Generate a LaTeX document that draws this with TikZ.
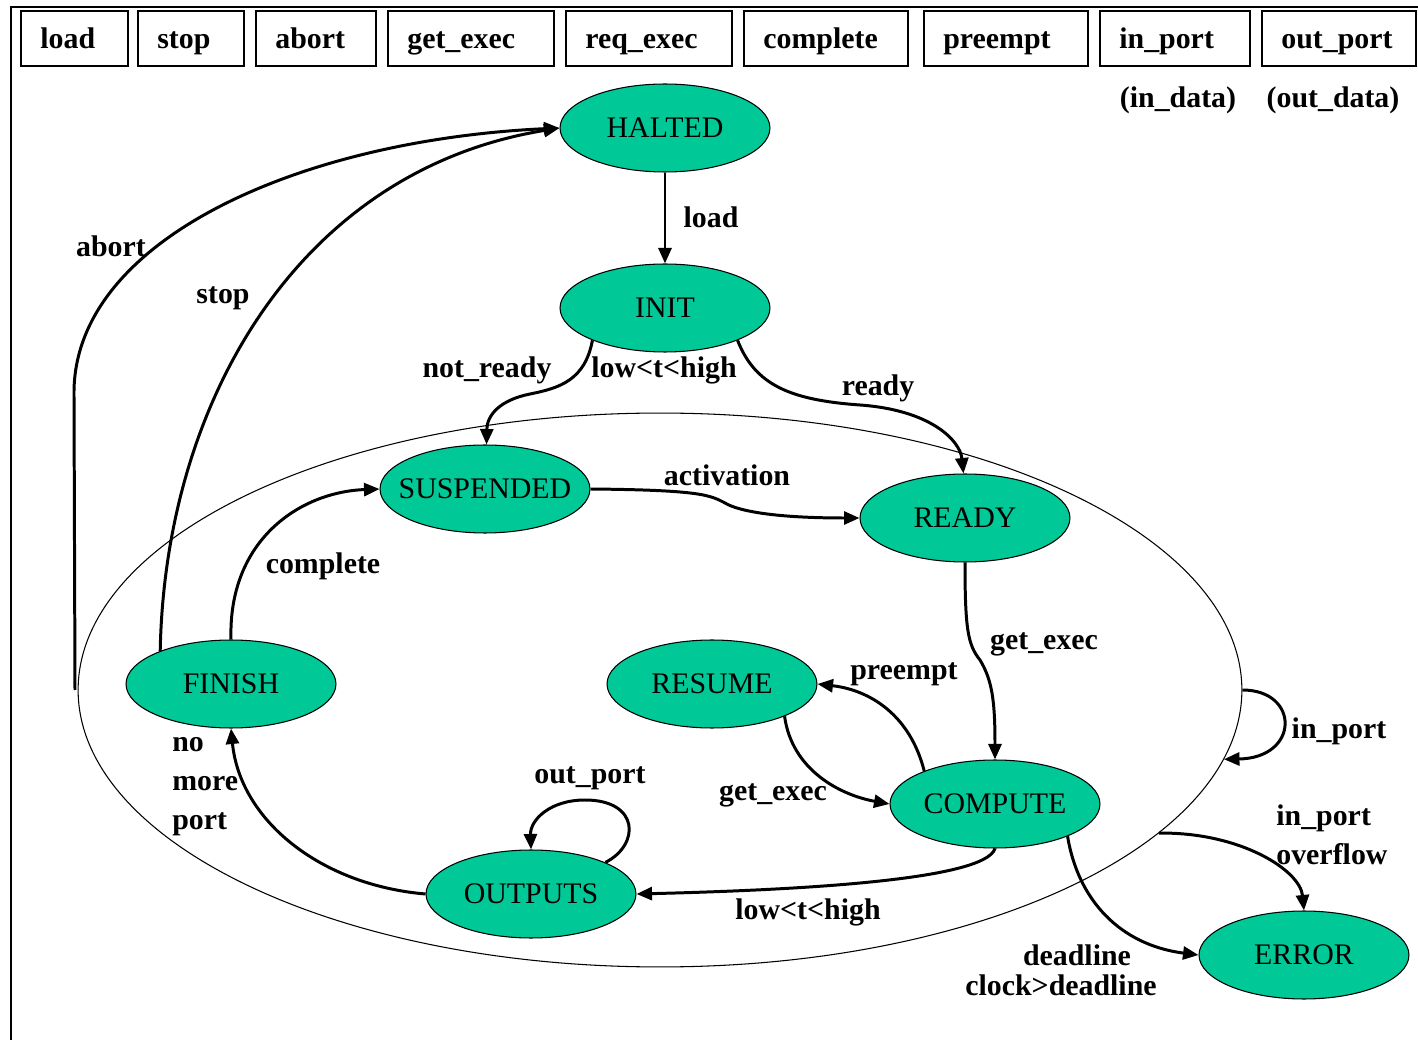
\documentclass[tikz,border=0pt]{standalone}
\usepackage{fontspec}
\setmainfont{Liberation Serif}
\usetikzlibrary{shapes.geometric,arrows.meta}
\definecolor{stategreen}{RGB}{0,200,150}
\newcommand\lblfont{\bfseries\fontsize{17}{22}\selectfont}
\newcommand\statefont{\fontsize{17}{20}\selectfont}
\begin{document}
\begin{tikzpicture}[x=0.02cm,y=-0.02cm,
  state/.style={ellipse, draw, line width=0.6pt, fill=stategreen,
    minimum width=4.2cm, minimum height=1.76cm, inner ysep=0pt, inner xsep=-8pt, font=\statefont},
  lbl/.style={font=\lblfont, inner sep=0pt, text height=12pt, text depth=3.5pt, yshift=-1.5pt},
  mlbl/.style={font=\lblfont, inner sep=0pt, align=left, yshift=-1.5pt},
  keybox/.style={draw, line width=1.1pt},
  arr/.style={line width=1.7pt, -{Triangle[length=3.1mm,width=2.6mm]}},
  thinline/.style={line width=0.6pt}]
\useasboundingbox (0,0) rectangle (1418,1040);
% frame
\draw[line width=1.7pt] (1418,7) -- (11,7) -- (11,1040);
% key boxes
\foreach \l/\r/\t in {21/128/load,138/244/stop,256/376/abort,388/554/get\_exec,566/732/req\_exec,744/908/complete,924/1088/preempt,1100/1250/in\_port,1262/1416/out\_port}{
  \draw[keybox] (\l,11) rectangle (\r,66);
  \node[lbl, anchor=west] at (\l+19,38) {\t};
}
\node[lbl] (indata) at (1178,97) {(in\_data)};
\node[lbl] (outdata) at (1333,97) {(out\_data)};
% region
\node[ellipse, draw, thinline, minimum width=23.28cm, minimum height=11.08cm, inner sep=0pt] (region) at (660,690) {};
% states
\node[state] (HALTED) at (665,128) {HALTED};
\node[state] (INIT) at (665,308) {INIT};
\node[state] (SUSPENDED) at (485,489) {SUSPENDED};
\node[state] (READY) at (965,518) {READY};
\node[state] (FINISH) at (231,684) {FINISH};
\node[state] (RESUME) at (712,684) {RESUME};
\node[state] (COMPUTE) at (995,804) {COMPUTE};
\node[state] (OUTPUTS) at (531,894) {OUTPUTS};
\node[state] (ERROR) at (1304,955) {ERROR};
\coordinate (abortstart) at (75,690);
% edges
\draw[arr] (HALTED.south) -- (INIT.north);
\draw[arr] (abortstart) -- (74,395) .. controls (72,240) and (300,140) .. (HALTED.west);
\draw[arr] (FINISH.155) .. controls (165,400) and (300,170) .. (HALTED.west);
\draw[arr] (INIT.-156) .. controls (585,380) and (560,388) .. (530,394) .. controls (500,400) and (487,415) .. (SUSPENDED.88);
\draw[arr] (INIT.-24) .. controls (755,385) and (790,400) .. (860,405) .. controls (930,410) and (960,440) .. (READY.92);
\draw[arr] (SUSPENDED.east) .. controls (700,490) and (710,495) .. (725,503) .. controls (740,512) and (780,518) .. (READY.west);
\draw[arr] (FINISH.north) .. controls (228,540) and (300,492) .. (SUSPENDED.west);
\draw[arr] (READY.south) .. controls (965,630) and (968,645) .. (980,660) .. controls (992,680) and (995,700) .. (COMPUTE.north);
\draw[arr] (COMPUTE.155) .. controls (910,715) and (870,690) .. (RESUME.east);
\draw[arr] (RESUME.-24) .. controls (792,770) and (840,795) .. (COMPUTE.west);
\draw[arr] (COMPUTE.south) .. controls (985,880) and (800,890) .. (OUTPUTS.east);
\draw[arr] (OUTPUTS.23) .. controls (640,845) and (640,800) .. (585,800) .. controls (550,800) and (530,820) .. (OUTPUTS.north);
\draw[arr] (OUTPUTS.west) .. controls (320,885) and (240,820) .. (FINISH.south);
\draw[arr] (region.0) .. controls (1300,690) and (1300,758) .. (region.-7);
\draw[arr] (region.-16) .. controls (1240,832) and (1300,870) .. (ERROR.north);
\draw[arr] (COMPUTE.-24) .. controls (1078,900) and (1120,945) .. (ERROR.west);
% labels
\node[lbl] (lload) at (711,217) {load};
\node[lbl] (labort) at (111,246) {abort};
\node[lbl] (lstop) at (223,293) {stop};
\node[lbl] (lnotready) at (487,367) {not\_ready};
\node[lbl] (llow1) at (664,367) {low<t<high};
\node[lbl] (lready) at (878,385) {ready};
\node[lbl] (lact) at (727,475) {activation};
\node[lbl] (lcomplete) at (323,563) {complete};
\node[lbl] (lget1) at (1044,639) {get\_exec};
\node[lbl] (lpreempt) at (904,669) {preempt};
\node[lbl] (lget2) at (773,790) {get\_exec};
\node[lbl] (loutport) at (590,773) {out\_port};
\node[lbl] (llow2) at (808,909) {low<t<high};
\node[lbl] (linport) at (1339,728) {in\_port};
\node[mlbl, anchor=west] (lnomore) at (172,784) {no\\more\\port};
\node[mlbl, anchor=west] (loverflow) at (1276,832) {in\_port\\overflow};
\node[lbl] (ldeadline) at (1077,955) {deadline};
\node[lbl] (lclock) at (1061,985) {clock>deadline};
\end{tikzpicture}
\end{document}
